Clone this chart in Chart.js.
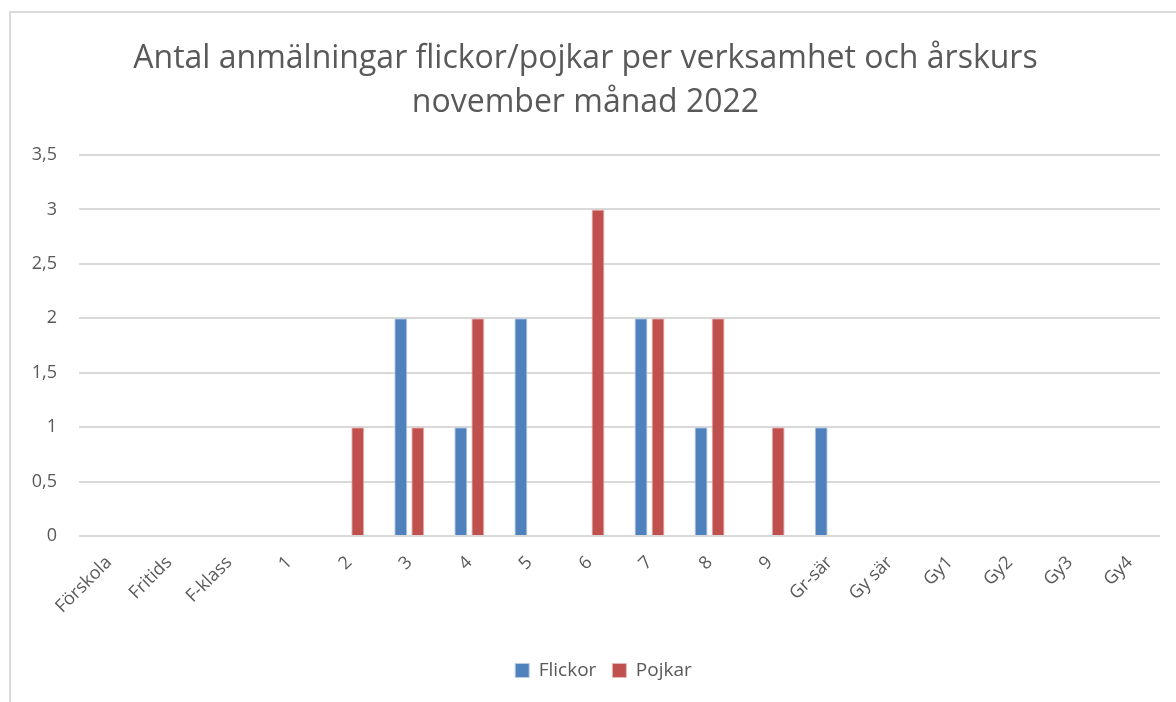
<!DOCTYPE html>
<html>
<head>
<meta charset="utf-8">
<script src="https://cdn.jsdelivr.net/npm/chart.js@4/dist/chart.umd.min.js"></script>
<style>
  html, body { margin: 0; padding: 0; background: #fff; }
  #frame {
    position: absolute; left: 9px; top: 11px; width: 1167px; height: 691px;
    border-top: 2px solid #d9d9d9; border-left: 2px solid #d9d9d9;
  }
  #wrap { position: absolute; left: 0; top: 0; width: 1165px; height: 689px; }
</style>
</head>
<body>
<div id="frame"><div id="wrap"><canvas id="chart"></canvas></div></div>
<script>
// categories (verksamhet / årskurs)
var categories = ['Förskola', 'Fritids', 'F-klass', '1', '2', '3', '4', '5', '6', '7', '8', '9', 'Gr-sär', 'Gy sär', 'Gy1', 'Gy2', 'Gy3', 'Gy4'];
var flickor = [0, 0, 0, 0, 0, 2, 1, 2, 0, 2, 1, 0, 1, 0, 0, 0, 0, 0];
var pojkar  = [0, 0, 0, 0, 1, 1, 2, 0, 3, 2, 2, 1, 0, 0, 0, 0, 0, 0];
var titleLines = ['Antal anmälningar flickor/pojkar per verksamhet och årskurs', 'november månad 2022'];

var textColor = '#595959';
var fontFamily = "'Open Sans', sans-serif";

// nudge the legend a bit right, like the original
var legendShift = {
    id: 'legendShift',
    afterLayout: function (chart) {
        chart.legend.left += 18;
        chart.legend.right += 18;
    }
};

new Chart(document.getElementById('chart'), {
    type: 'bar',
    data: {
        labels: categories,
        datasets: [{
            label: 'Flickor',
            data: flickor,
            backgroundColor: '#4f81bd',
            borderColor: '#b9cde5',
            borderWidth: 1,
            categoryPercentage: 0.567,
            barPercentage: 0.765
        }, {
            label: 'Pojkar',
            data: pojkar,
            backgroundColor: '#c0504d',
            borderColor: '#e6b9b8',
            borderWidth: 1,
            categoryPercentage: 0.567,
            barPercentage: 0.765
        }]
    },
    plugins: [legendShift],
    options: {
        responsive: true,
        maintainAspectRatio: false,
        animation: false,
        layout: { padding: { left: 0, right: 16, top: 0, bottom: 12 } },
        plugins: {
            title: {
                display: true,
                text: titleLines,
                color: textColor,
                font: { family: fontFamily, size: 32, weight: 'normal', lineHeight: 1.375 },
                padding: { top: 24, bottom: 30 }
            },
            legend: {
                position: 'bottom',
                labels: {
                    color: textColor,
                    font: { family: fontFamily, size: 19 },
                    boxWidth: 14, boxHeight: 14,
                    padding: 16
                }
            },
            tooltip: { enabled: false }
        },
        scales: {
            x: {
                grid: { display: false, drawTicks: false },
                border: { display: false },
                ticks: {
                    color: textColor,
                    font: { family: fontFamily, size: 18 },
                    minRotation: 45, maxRotation: 45,
                    autoSkip: false,
                    padding: 16
                },
                afterFit: function (scale) { scale.height = 109; }
            },
            y: {
                min: 0, max: 3.5,
                grid: { color: '#d9d9d9', lineWidth: 2, drawTicks: false },
                border: { display: false },
                ticks: {
                    stepSize: 0.5,
                    color: textColor,
                    font: { family: fontFamily, size: 18 },
                    padding: 22,
                    callback: function (v) { return String(v).replace('.', ','); }
                },
                afterFit: function (scale) { scale.width = 68; }
            }
        }
    }
});
</script>
</body>
</html>
